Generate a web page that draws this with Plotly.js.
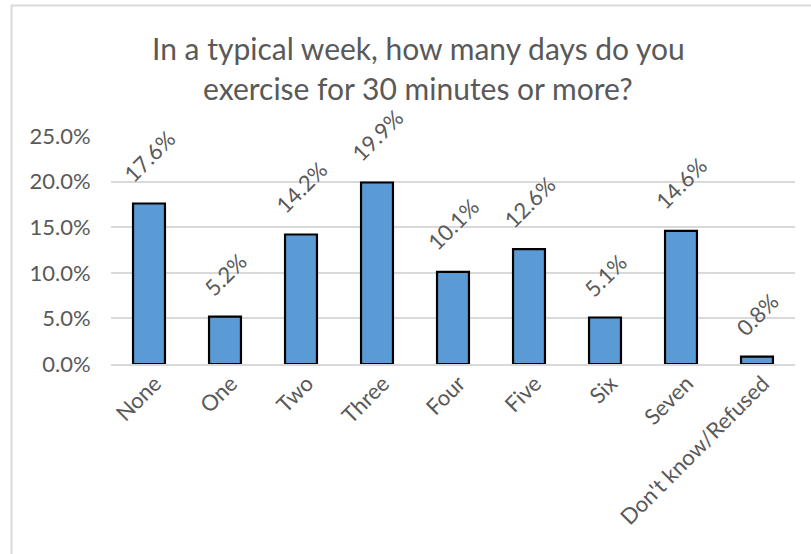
<!DOCTYPE html>
<html>
<head>
<meta charset="utf-8">
<script src="https://cdn.plot.ly/plotly-3.0.1.min.js"></script>
<style>html,body{margin:0;padding:0;background:#fff;}#chart{width:811px;height:554px;}</style>
</head>
<body>
<div id="chart"></div>
<script>
const categories = ["None", "One", "Two", "Three", "Four", "Five", "Six", "Seven", "Don't know/Refused"];
const percentValues = [17.6, 5.2, 14.2, 19.9, 10.1, 12.6, 5.1, 14.6, 0.8];
const yTickValues = [0, 5, 10, 15, 20, 25];
const yTickLabels = ["0.0%", "5.0%", "10.0%", "15.0%", "20.0%", "25.0%"];
const titleLines = ["In a typical week, how many days do you", "exercise for 30 minutes or more?"];

const FONT = "Lato, 'Noto Sans', sans-serif";
const TXT = "#595959";
const PL = 111, PR = 795, PT = 136, PB = 364;
const px2x = p => (p - PL) / (PR - PL);
const px2y = p => (PB - p) / (PB - PT);

const trace = {
  type: "bar",
  x: categories,
  y: percentValues,
  marker: {color: "#5B9BD5", line: {color: "#000000", width: 2.2}},
  hoverinfo: "none"
};

const titleAnns = titleLines.map((t, i) => ({
  text: t, showarrow: false,
  xref: "paper", yref: "paper",
  x: px2x(418), y: px2y(48 + 40 * i),
  xanchor: "center", yanchor: "middle",
  font: {family: FONT, size: 30, color: TXT}
}));

const labelAnns = categories.map((c, i) => ({
  text: percentValues[i].toFixed(1) + "%",
  showarrow: false,
  xref: "x", yref: "y",
  x: c, y: percentValues[i],
  xanchor: "center", yanchor: "bottom",
  textangle: -45,
  yshift: 13,
  font: {family: FONT, size: 22, color: TXT}
}));

const layout = {
  width: 811, height: 554,
  margin: {l: PL, r: 811 - PR, t: PT, b: 554 - PB, pad: 0},
  paper_bgcolor: "#ffffff",
  plot_bgcolor: "#ffffff",
  bargap: 0.58,
  showlegend: false,
  font: {family: FONT, color: TXT},
  annotations: titleAnns.concat(labelAnns),
  xaxis: {
    type: "category",
    tickangle: -45,
    tickfont: {family: FONT, size: 22, color: TXT},
    ticklabelshift: 6,
    ticklabelstandoff: -4,
    showgrid: false,
    showline: true, linecolor: "#D9D9D9", linewidth: 2,
    ticks: "", fixedrange: true
  },
  yaxis: {
    range: [0, 25],
    tickvals: yTickValues,
    ticktext: yTickLabels,
    tickfont: {family: FONT, size: 22, color: TXT},
    showgrid: true, gridcolor: "#D9D9D9", gridwidth: 2,
    zeroline: false, showline: false,
    ticks: "outside", ticklen: 15, tickcolor: "rgba(0,0,0,0)",
    fixedrange: true
  },
  shapes: [{
    type: "rect", xref: "paper", yref: "paper",
    x0: px2x(11.5), x1: 1.2,
    y0: -1.2, y1: px2y(5.5),
    line: {color: "#D9D9D9", width: 2},
    fillcolor: "rgba(0,0,0,0)",
    layer: "below"
  }]
};

Plotly.newPlot("chart", [trace], layout, {staticPlot: true, displayModeBar: false});
</script>
</body>
</html>
